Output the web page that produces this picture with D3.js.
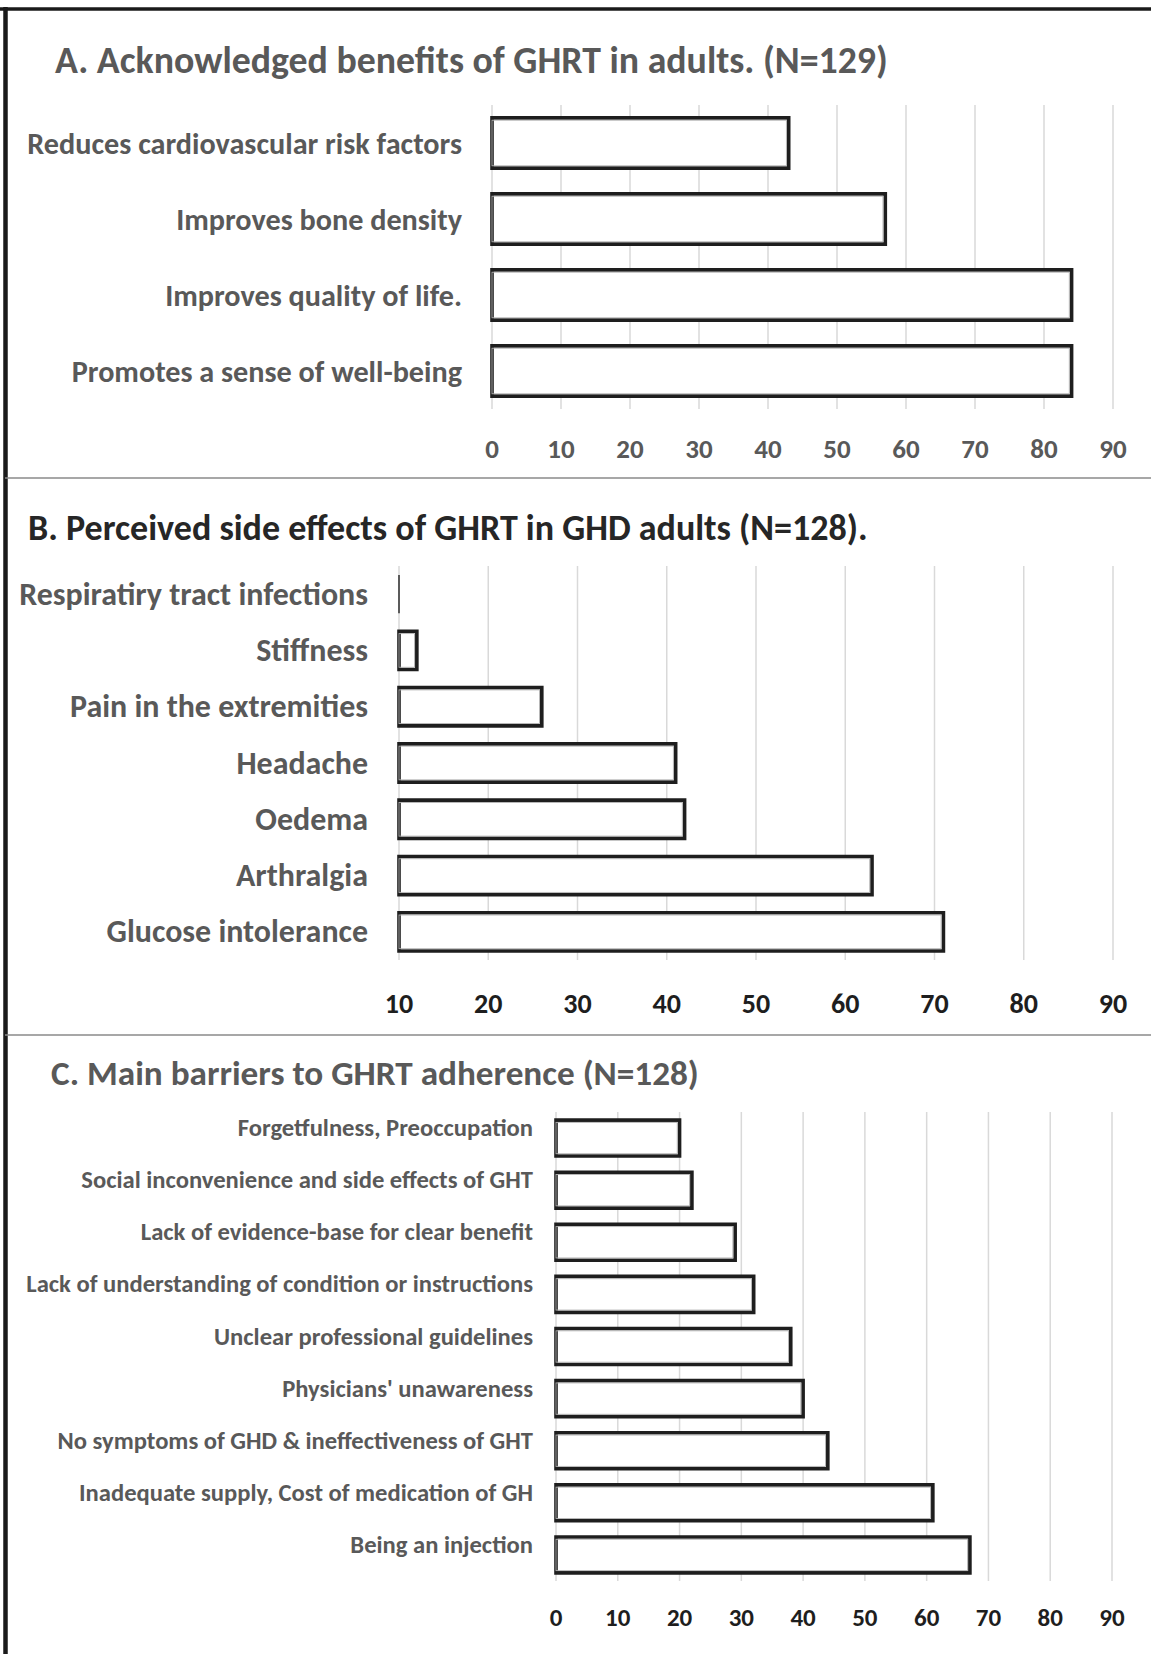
<!DOCTYPE html>
<html>
<head>
<meta charset="utf-8">
<script src="https://cdn.jsdelivr.net/npm/d3@7"></script>
<style>
  html, body { margin: 0; padding: 0; background: #fff; }
  svg text { font-family: Carlito, Calibri, Lato, "Open Sans", sans-serif; font-weight: 700; }
</style>
</head>
<body>
<svg id="chart" width="1151" height="1654"></svg>
<script>
// ---------------- DATA ----------------
const titleA = "A. Acknowledged benefits of GHRT in adults. (N=129)";
const categoriesA = [
  "Reduces cardiovascular risk factors",
  "Improves bone density",
  "Improves quality of life.",
  "Promotes a sense of well-being"
];
const valuesA = [43, 57, 84, 84];
const ticksA = [0, 10, 20, 30, 40, 50, 60, 70, 80, 90];

const titleB = "B. Perceived side effects of GHRT in GHD adults (N=128).";
const categoriesB = [
  "Respiratiry tract infections",
  "Stiffness",
  "Pain in the extremities",
  "Headache",
  "Oedema",
  "Arthralgia",
  "Glucose intolerance"
];
const valuesB = [10, 12, 26, 41, 42, 63, 71];
const ticksB = [10, 20, 30, 40, 50, 60, 70, 80, 90];

const titleC = "C. Main barriers to GHRT adherence (N=128)";
const categoriesC = [
  "Forgetfulness, Preoccupation",
  "Social inconvenience and side effects of GHT",
  "Lack of evidence-base for clear benefit",
  "Lack of understanding of condition or instructions",
  "Unclear professional guidelines",
  "Physicians' unawareness",
  "No symptoms of GHD & ineffectiveness of GHT",
  "Inadequate supply, Cost of medication of GH",
  "Being an injection"
];
const valuesC = [20, 22, 29, 32, 38, 40, 44, 61, 67];
const ticksC = [0, 10, 20, 30, 40, 50, 60, 70, 80, 90];

// ---------------- DRAW ----------------
const svg = d3.select("#chart");
const W = 1151, H = 1654;

function fitGroup(sel, target) {
  sel.style("font-size", "20px");
  let maxW = 0;
  sel.each(function() { maxW = Math.max(maxW, this.getComputedTextLength()); });
  sel.style("font-size", (20 * target / maxW) + "px");
}

function panel(cfg) {
  const g = svg.append("g");
  const x = d3.scaleLinear().domain(cfg.domain).range(cfg.xRange);
  const y = d3.scaleBand().domain(cfg.categories).range(cfg.yRange).paddingInner(cfg.pad).paddingOuter(cfg.pad / 2);
  const rows = cfg.categories.map((c, i) => ({ cat: c, val: cfg.values[i] }));
  const x0 = x(cfg.domain[0]);

  // gridlines
  g.append("g").selectAll("line").data(cfg.ticks).join("line")
    .attr("x1", d => x(d)).attr("x2", d => x(d))
    .attr("y1", cfg.yRange[0]).attr("y2", cfg.yRange[1])
    .attr("stroke", "#d9d9d9").attr("stroke-width", 1.5);

  // bars
  const bars = g.append("g").selectAll("g").data(rows).join("g");
  bars.append("path")
    .attr("d", d => {
      const x1 = x(d.val);
      const y0 = y(d.cat), y1 = y0 + y.bandwidth();
      return `M${x0},${y0}H${x1}V${y1}H${x0}Z`;
    })
    .attr("fill", "#fff")
    .attr("stroke", d => (x(d.val) - x0 < 1 ? "#3a3a3a" : "#1e1e1e"))
    .attr("stroke-width", d => (x(d.val) - x0 < 1 ? 1.6 : 3.6))
    .attr("stroke-linejoin", "miter");
  bars.filter(d => x(d.val) - x0 > 4).append("rect")
    .attr("x", x0)
    .attr("y", d => y(d.cat) + 2.3)
    .attr("width", d => x(d.val) - x0 - 2.3)
    .attr("height", y.bandwidth() - 4.6)
    .attr("fill", "none")
    .attr("stroke", "#b0b0b0")
    .attr("stroke-width", 0.9);

  // category labels
  const labs = g.append("g").selectAll("text").data(cfg.categories).join("text")
    .attr("x", cfg.labelX)
    .attr("y", d => y(d) + y.bandwidth() / 2 + cfg.labelDy)
    .attr("text-anchor", "end")
    .attr("dominant-baseline", "central")
    .attr("fill", "#595959")
    .text(d => d);
  fitGroup(labs, cfg.labelW);

  // tick labels
  g.append("g").selectAll("text").data(cfg.ticks).join("text")
    .attr("x", d => x(d))
    .attr("y", cfg.tickY)
    .attr("text-anchor", "middle")
    .attr("dominant-baseline", "central")
    .attr("fill", cfg.tickColor)
    .style("font-size", cfg.tickSize + "px")
    .style("font-weight", 900)
    .text(d => d3.format("d")(d));

  // title
  const t = g.append("text")
    .attr("x", cfg.titleX).attr("y", cfg.titleY)
    .attr("fill", cfg.titleColor)
    .text(cfg.title);
  fitGroup(t, cfg.titleW);
}

panel({
  title: titleA, titleX: 55, titleY: 73, titleW: 833, titleColor: "#595959",
  categories: categoriesA, values: valuesA, ticks: ticksA,
  domain: [0, 90], xRange: [492, 1113], yRange: [105, 409], pad: 0.34,
  labelX: 462, labelW: 435, labelDy: 0,
  tickY: 448, tickSize: 27, tickColor: "#595959"
});

panel({
  title: titleB, titleX: 28, titleY: 540, titleW: 840, titleColor: "#262626",
  categories: categoriesB, values: valuesB, ticks: ticksB,
  domain: [10, 90], xRange: [399, 1113], yRange: [566, 960], pad: 0.32,
  labelX: 368, labelW: 349, labelDy: 0,
  tickY: 1003, tickSize: 28, tickColor: "#1e1e1e"
});

panel({
  title: titleC, titleX: 51, titleY: 1085, titleW: 648, titleColor: "#595959",
  categories: categoriesC, values: valuesC, ticks: ticksC,
  domain: [0, 90], xRange: [556, 1112], yRange: [1112, 1581], pad: 0.31,
  labelX: 533, labelW: 507, labelDy: -10,
  tickY: 1617, tickSize: 25, tickColor: "#1e1e1e"
});

// frame lines
svg.append("line").attr("x1", 0).attr("x2", W).attr("y1", 9).attr("y2", 9)
  .attr("stroke", "#1a1a1a").attr("stroke-width", 3.5);
svg.append("line").attr("x1", 5.5).attr("x2", 5.5).attr("y1", 7).attr("y2", H)
  .attr("stroke", "#1a1a1a").attr("stroke-width", 4.5);
[478, 1035].forEach(yy => {
  svg.append("line").attr("x1", 5).attr("x2", W).attr("y1", yy).attr("y2", yy)
    .attr("stroke", "#8a8a8a").attr("stroke-width", 1.6);
});
</script>
</body>
</html>
